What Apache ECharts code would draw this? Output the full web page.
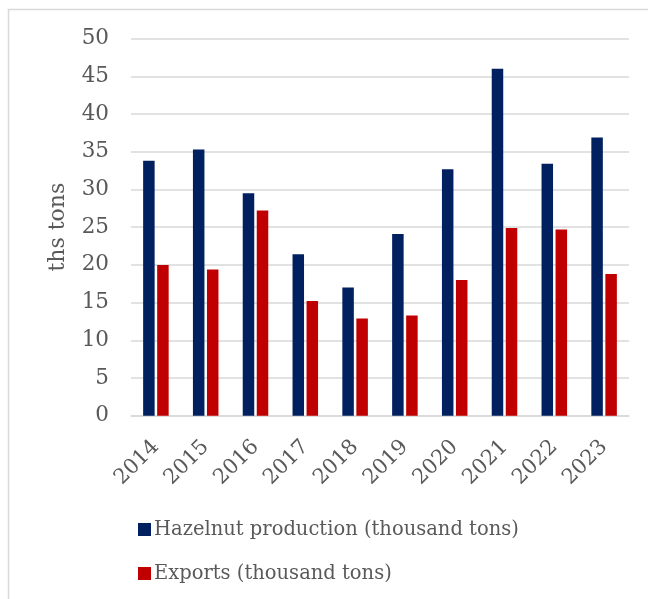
<!DOCTYPE html>
<html>
<head>
<meta charset="utf-8">
<script src="https://cdn.jsdelivr.net/npm/echarts@6/dist/echarts.min.js"></script>
<style>
  html, body { margin: 0; padding: 0; background: #fff; }
  #chart { width: 648px; height: 599px; }
</style>
</head>
<body>
<div id="chart"></div>
<script>
// Hazelnut production and exports by year, thousand tons
const years = ['2014', '2015', '2016', '2017', '2018', '2019', '2020', '2021', '2022', '2023'];
const production = [33.8, 35.3, 29.5, 21.4, 17.0, 24.1, 32.7, 46.0, 33.4, 36.9];
const exportsVol = [20.0, 19.4, 27.2, 15.2, 12.9, 13.3, 18.0, 24.9, 24.7, 18.8];
const seriesNames = ['Hazelnut production (thousand tons)', 'Exports (thousand tons)'];

const FONT = 'DejaVu Serif';
const TEXT = '#595959';

const chart = echarts.init(document.getElementById('chart'), null, { renderer: 'canvas' });
chart.setOption({
  animation: false,
  backgroundColor: '#ffffff',
  textStyle: { fontFamily: FONT, color: TEXT },
  graphic: [{
    type: 'rect',
    shape: { x: 8.5, y: 9.5, width: 700, height: 700 },
    style: { fill: 'none', stroke: '#d9d9d9', lineWidth: 1.5 },
    silent: true
  }],
  grid: { left: 131, right: 19, top: 38.7, bottom: 183.3, containLabel: false },
  legend: {
    orient: 'vertical',
    left: 133,
    top: 514,
    itemWidth: 13,
    itemHeight: 13,
    itemGap: 23,
    icon: 'rect',
    textStyle: { fontFamily: FONT, fontSize: 19.5, color: TEXT, lineHeight: 21, padding: [0, 0, 0, -2] },
    data: seriesNames
  },
  xAxis: [{
    type: 'category',
    data: years,
    axisLine: { show: true, lineStyle: { color: '#d9d9d9', width: 1.5 } },
    axisTick: { show: false },
    axisLabel: {
      show: true,
      rotate: 45,
      interval: 0,
      fontFamily: FONT,
      fontSize: 21,
      color: TEXT,
      margin: 28
    }
  }],
  yAxis: {
    type: 'value',
    min: 0,
    max: 50,
    interval: 5,
    name: 'ths tons',
    nameLocation: 'middle',
    nameGap: 62,
    nameTextStyle: { fontFamily: FONT, fontSize: 22, color: TEXT },
    axisLine: { show: false },
    axisTick: { show: false },
    axisLabel: { fontFamily: FONT, fontSize: 21.5, color: TEXT, margin: 22 },
    splitLine: { lineStyle: { color: '#d9d9d9', width: 1.5 } }
  },
  series: [
    {
      name: seriesNames[0],
      type: 'bar',
      data: production,
      barWidth: 11.5,
      barGap: '22%',
      itemStyle: { color: '#002060' }
    },
    {
      name: seriesNames[1],
      type: 'bar',
      data: exportsVol,
      barWidth: 11.5,
      itemStyle: { color: '#C00000' }
    }
  ]
});
</script>
</body>
</html>
